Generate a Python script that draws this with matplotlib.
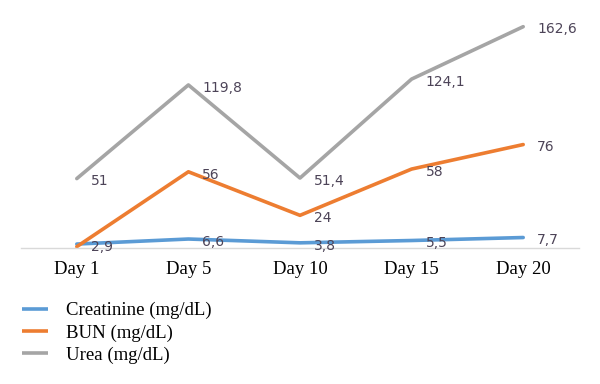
import matplotlib.pyplot as plt

# Datos
days = ["Day 1", "Day 5", "Day 10", "Day 15", "Day 20"]
creatinine = [2.9, 6.6, 3.8, 5.5, 7.7]
bun = [1, 56, 24, 58, 76]
urea = [51, 119.8, 51.4, 124.1, 162.6]

creat_labels = ["2,9", "6,6", "3,8", "5,5", "7,7"]
bun_labels = ["", "56", "24", "58", "76"]
urea_labels = ["51", "119,8", "51,4", "124,1", "162,6"]

series = [
    ("Creatinine (mg/dL)", creatinine, creat_labels, "#5B9BD5"),
    ("BUN (mg/dL)", bun, bun_labels, "#ED7D31"),
    ("Urea (mg/dL)", urea, urea_labels, "#A5A5A5"),
]

fig = plt.figure(figsize=(6, 3.84), dpi=100)
ax = fig.add_axes([21 / 600, 1 - 248 / 384, 558 / 600, 245 / 384])

x = list(range(len(days)))
for name, vals, labels, color in series:
    ax.plot(x, vals, color=color, linewidth=2.6, label=name, solid_capstyle="round")
    for xi, v, lab in zip(x, vals, labels):
        ax.annotate(lab, (xi, v), xytext=(10, -2), textcoords="offset points",
                    ha="left", va="center", fontsize=10, color="#4d4458")

ax.set_xlim(-0.5, len(days) - 0.5)
ax.set_ylim(0, 180)
ax.set_xticks(x)
ax.set_xticklabels(days, family="Liberation Serif", fontsize=13.5)
ax.tick_params(axis="x", length=0, pad=9)
ax.set_yticks([])
for s in ["top", "right", "left"]:
    ax.spines[s].set_visible(False)
ax.spines["bottom"].set_color("#d9d9d9")
ax.spines["bottom"].set_linewidth(1)

leg = fig.legend(loc="upper left", bbox_to_anchor=(0.024, 0.233), frameon=False,
                 prop={"family": "Liberation Serif", "size": 13.5}, labelspacing=0.27,
                 handlelength=1.4, handletextpad=0.95, borderaxespad=0)
for line in leg.get_lines():
    line.set_solid_capstyle("butt")

fig.savefig("out.png", dpi=100)
